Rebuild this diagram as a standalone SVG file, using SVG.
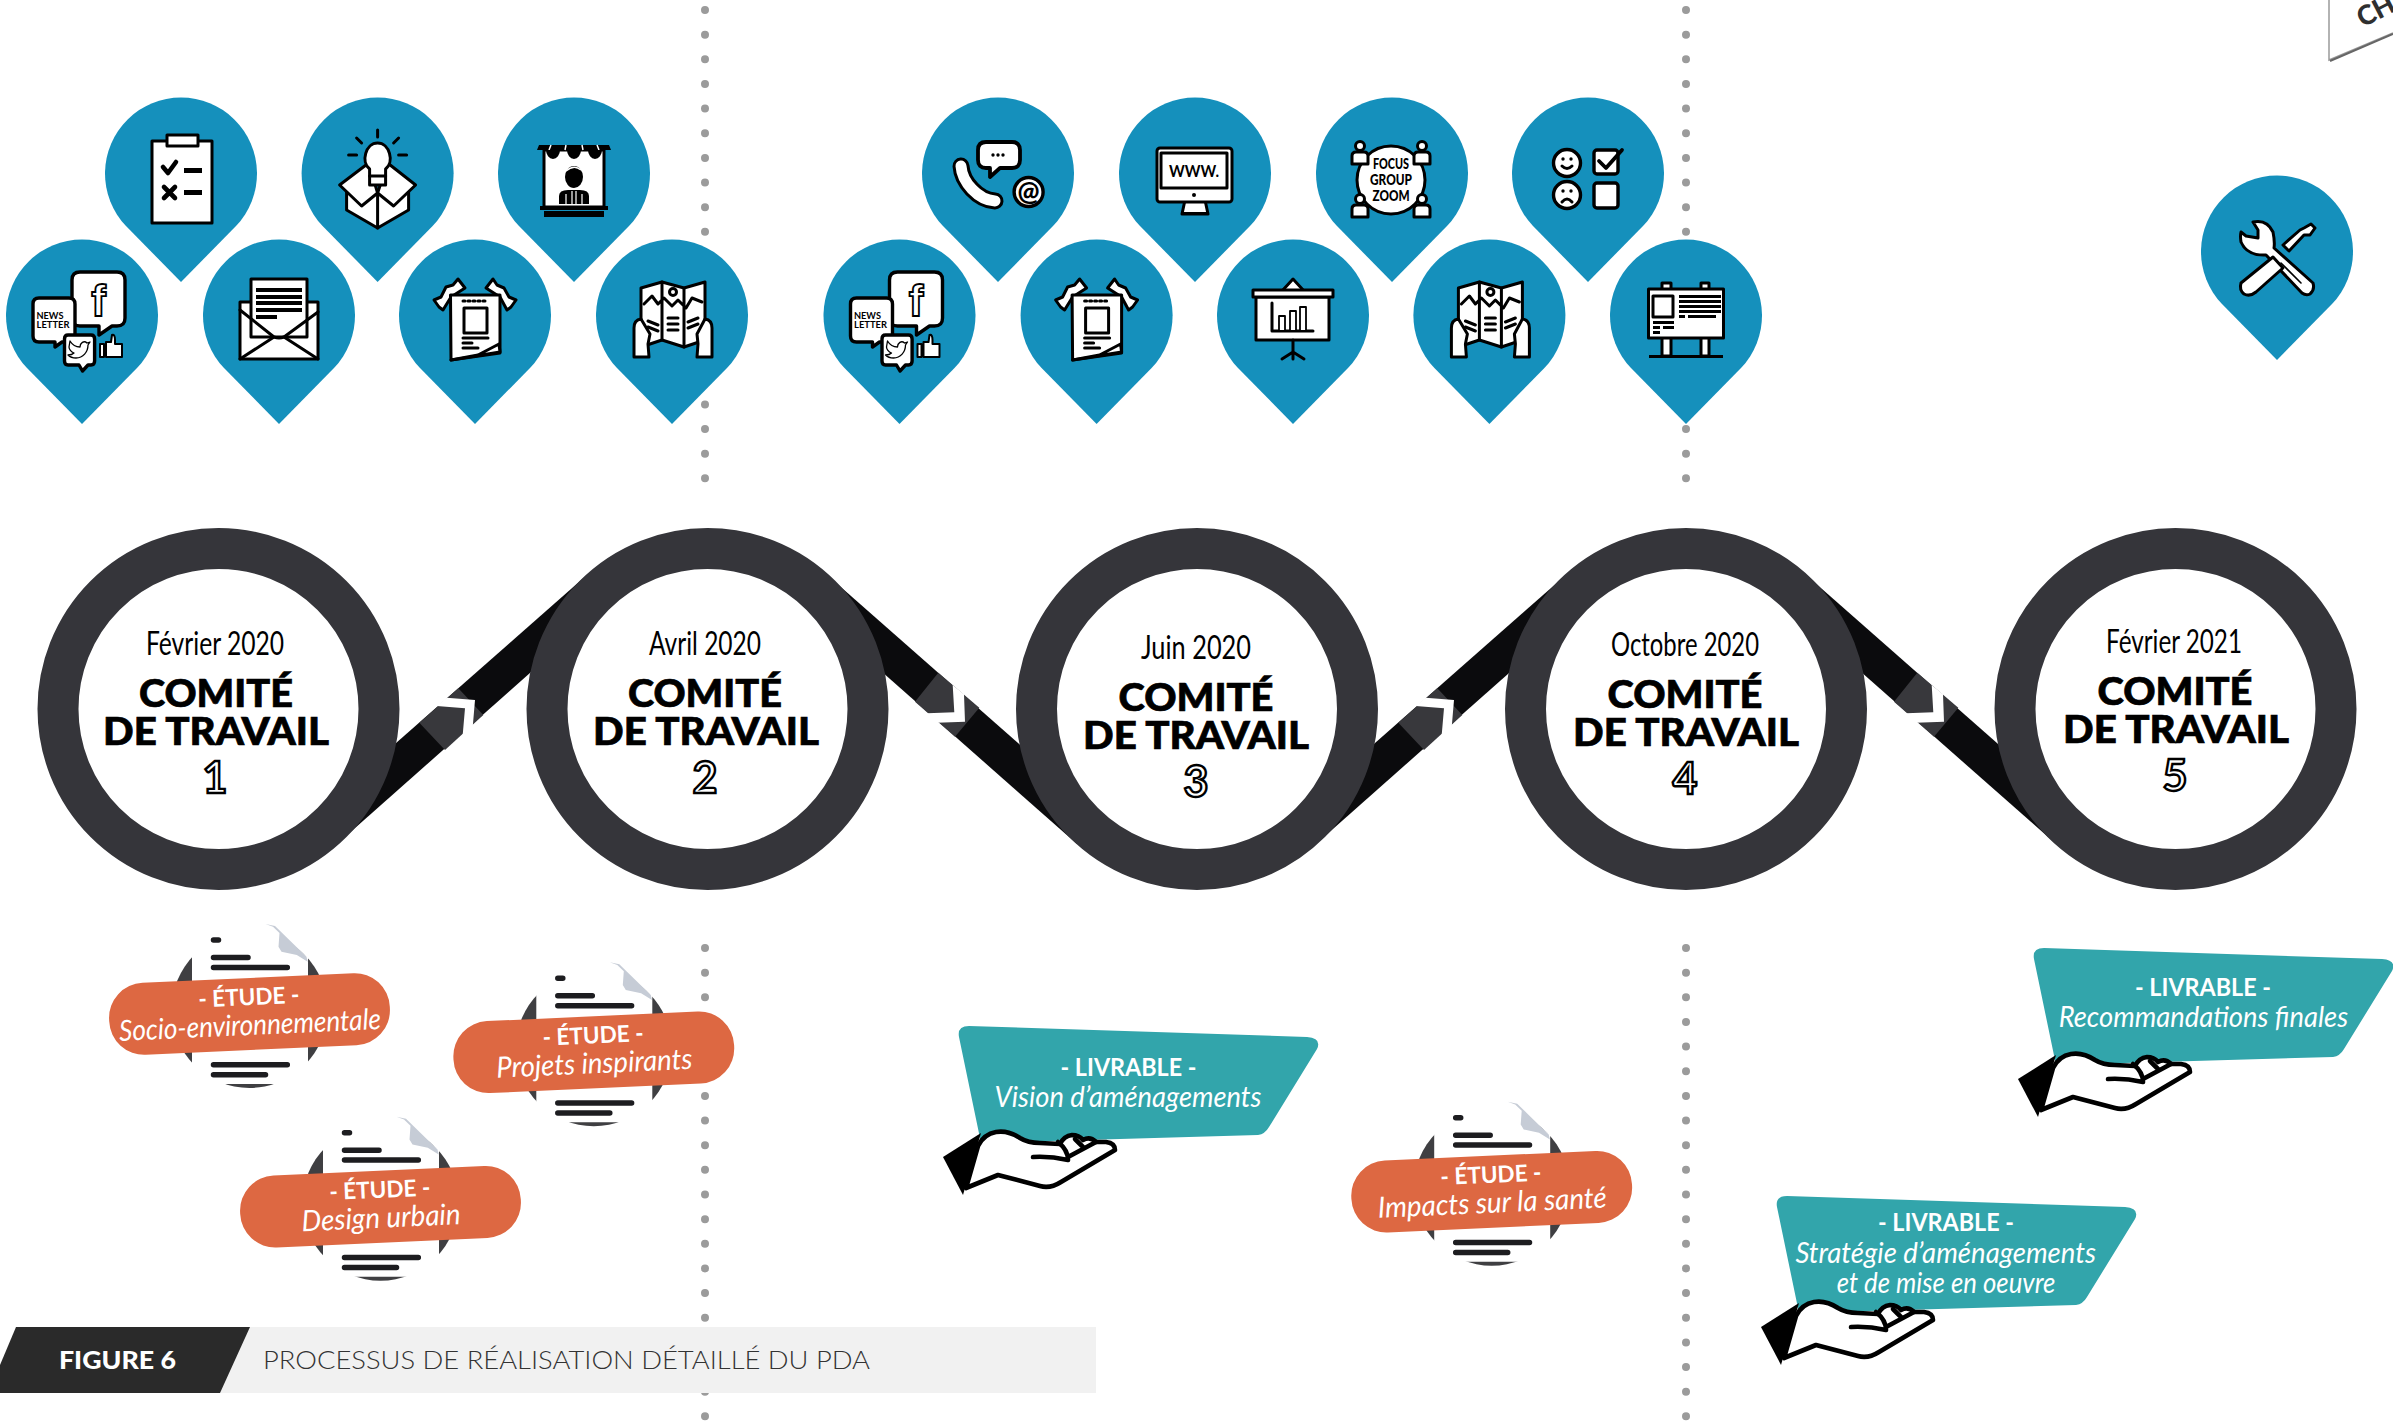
<svg xmlns="http://www.w3.org/2000/svg" xmlns:xlink="http://www.w3.org/1999/xlink" width="2393" height="1421" viewBox="0 0 2393 1421">
<style>
text{font-family:Lato,"Liberation Sans",sans-serif;text-anchor:middle}
.pin{fill:#1590bc}
.w{fill:#fff;stroke:#000;stroke-width:3;stroke-linejoin:round}
.k{fill:#000}
.s{fill:none;stroke:#000;stroke-width:3;stroke-linecap:round;stroke-linejoin:round}
.dots{fill:none;stroke:#9b9b9b;stroke-width:8;stroke-linecap:round;stroke-dasharray:0 24.65}
.band{fill:#0b0b0d}.seg{fill:#38383c}.chev{fill:#fff}
.ring{fill:#fff;stroke:#35353a;stroke-width:41}
.date{font-size:33px;fill:#000}
.ct{font-size:38px;font-weight:900;fill:#000;stroke:#000;stroke-width:.7}
.num{font-size:43px;font-weight:700;fill:#fff;stroke:#000;stroke-width:2.4}
.pill{fill:#dd6842}.dk{fill:#3f3f42}.fold{fill:#c6ccd6}
.ln{fill:none;stroke:#1d1d20;stroke-width:5.5;stroke-linecap:round}
.tb{font-size:23px;font-weight:700;fill:#fff}
.ti{font-size:29px;font-style:italic;fill:#fff}
.teal{fill:#32a5ab}
.hand{fill:#fff;stroke:#000;stroke-width:4.6;stroke-linejoin:round;stroke-linecap:round}
.handl{fill:none;stroke:#000;stroke-width:4.6;stroke-linejoin:round;stroke-linecap:round}
.ltr{font-size:9.5px;font-weight:700;fill:#000}
.foc{font-size:15px;font-weight:900;fill:#000}
</style>
<defs>
<path id="pinshape" class="pin" d="M0,108 L-55,52 A76,76 0 1 1 55,52 Z"/>
<g id="conn-up">
<polygon class="band" points="588,574 354,780 337,844 553,652.6"/>
<polygon class="seg" points="419.3,722.7 458.3,688.3 483.3,715 445,750"/>
<polygon class="chev" points="436.7,706 446.7,697.7 475,700 472.7,727.3 462.7,735 465,708.3"/>
</g>
<g id="conn-down">
<polygon class="band" points="826,574 1060,780 1077,844 860,652.6"/>
<polygon class="seg" points="938.3,672.7 979.3,707.7 955,736.7 915,701.7"/>
<polygon class="chev" points="952.7,685 964,694.3 965,721.7 936.7,722.7 927.3,713.3 954.3,712.3"/>
</g>
<g id="doc">
<circle class="dk" cx="0" cy="-4" r="78"/>
<path fill="#fff" d="M-57.5,-90 H16 L58.5,-57 V70 H-57.5 Z"/>
<path class="fold" d="M16,-90 L25.5,-88 L36.5,-77.3 L57,-57.3 L58.2,-52.3 L47.3,-59 L32,-62.3 L29,-67.3 L30,-81 L23.5,-87.3 Z"/>
<path class="ln" d="M-36,-74H-31M-36,-56.5H-1.5M-36,-46.6H37.8M-36,50.7H37.8M-36,60.7H16"/>
<g transform="rotate(-2.6)"><rect class="pill" x="-140.5" y="-36" width="281" height="72" rx="35"/></g>
</g>
<g id="livrable">
<path class="teal" d="M959,1037 Q957,1026 969,1026 L1307,1037 Q1322,1038 1317,1049 L1269,1127 Q1265,1134 1258,1135 L981,1143 Z"/>
<polygon class="k" points="943,1157 981,1133 963,1195"/>
<path class="hand" d="M966,1188 L978,1146 Q984,1134 996,1132 Q1008,1130 1020,1138 Q1028,1143 1040,1143 L1060,1144 Q1064,1136 1072,1135 Q1079,1135 1083,1140 Q1090,1136 1096,1142 L1106,1142 Q1115,1143 1115,1150 L1061,1182 Q1050,1189 1040,1186 L998,1175 Z"/>
<path class="handl" d="M1033,1157 Q1050,1156 1068,1160 Q1068,1150 1058,1142M1068,1157 L1096,1142M1075,1139 L1084,1148"/>
</g>
<g id="ic-clip"><rect class="w" x="-29" y="-33" width="60" height="82"/><rect class="w" x="-14" y="-39" width="31" height="11"/>
<path class="s" style="stroke-width:4.600" d="M-18,-7 L-13,-1 L-5,-12"/><path class="s" style="stroke-width:4.600" d="M-17,13 L-6,24M-6,13 L-17,24"/><path class="k" d="M3,-6h18v5h-18zM3,16h18v5h-18z"/></g>
<g id="ic-box"><path class="w" d="M-31,18V36L0,54L31,36V18L0,19Z"/><path class="w" d="M-38,11 L-9,-11 L0,19 L-16,32Z"/><path class="w" d="M38,11 L10,-11 L0,19 L16,32Z"/><path class="s" d="M0,19V54"/>
<path class="w" d="M-8,-5C-17,-12 -12,-31 0,-31C12,-31 17,-12 8,-5V11H-8Z"/><path class="s" d="M-8,2H8"/>
<path class="s" d="M0,-44V-37M-21,-36L-16,-31M21,-36L16,-31M-29,-19H-21M21,-19H29"/></g>
<g id="ic-shop"><rect class="w" x="-30" y="-24" width="60" height="57"/><path class="k" d="M-35,-29H35L37,-24H-37Z"/><path d="M-23,-29L-25,-24M-8,-29L-9,-24M8,-29L9,-24M23,-29L25,-24" stroke="#fff" stroke-width="1.500"/><path class="k" d="M-28,-24H-14A7,9 0 0 1 -28,-24ZM-7,-24H7A7,9 0 0 1 -7,-24ZM14,-24H28A7,9 0 0 1 14,-24Z"/><ellipse class="k" cx="0" cy="3" rx="9" ry="11"/><path d="M-8,-3Q0,-10 7,-4" fill="none" stroke="#fff" stroke-width="1.500"/><path class="k" d="M-15,30V22Q-15,16 -6,16H6Q15,16 15,22V30Z"/><path d="M-2,17V30M2,17V30M-8,20V30M8,20V30" stroke="#fff" stroke-width="1.200"/><path class="k" d="M-34,32H34V36H-34ZM-30,37H30V43H-30Z"/></g>
<g id="ic-social"><path class="w" style="stroke-width:3.400" d="M-2,-44H35Q43,-44 43,-36V2Q43,10 35,10H30L17,19V10H-2Q-10,10 -10,2V-36Q-10,-44 -2,-44Z"/><text x="16.5" y="0" style="font-family:'Liberation Sans',sans-serif;font-size:44px;font-weight:700;fill:#fff;stroke:#000;stroke-width:1.800">f</text>
<path class="w" style="stroke-width:3.400" d="M-43,-18H-13Q-7,-18 -7,-12V20Q-7,26 -13,26H-20L-27,31L-27,26H-43Q-49,26 -49,20V-12Q-49,-18 -43,-18Z"/><text class="ltr" x="-32" y="3" textLength="27" lengthAdjust="spacingAndGlyphs">NEWS</text><text class="ltr" x="-29" y="12" textLength="33" lengthAdjust="spacingAndGlyphs">LETTER</text>
<path class="w" style="stroke-width:3.400" d="M-14,19H9Q12.600,19 12.600,23V45Q12.600,49 9,49H6L0.500,55L-3,49H-14Q-17.500,49 -17.500,45V23Q-17.500,19 -14,19Z"/><path class="s" style="stroke-width:1.300" d="M-12,25C-9,30 -4,31 -2,31C-2,27 2,24 5,27L8,26L6,29C6,36 1,42 -6,42C-9,42 -12,41 -14,39C-11,39 -9,38 -8,37C-11,36 -13,33 -13,31Z"/>
<path class="w" style="stroke-width:2" d="M24,26H29L30,19Q33,18 33,24V28H40V41H24ZM18,28H22V41H18Z"/></g>
<g id="ic-env"><rect class="w" x="-39" y="-14" width="78" height="57"/><rect class="w" x="-28" y="-37" width="56" height="58"/><path class="k" d="M-23,-28H23V-24H-23ZM-23,-21H23V-17H-23ZM-23,-15H23V-11H-23ZM-23,-8H23V-4H-23ZM-23,-1H-2V3H-23Z"/><path class="s" d="M-39,-6L-5,21Q0,23 5,21L39,-4M-39,43L-5,21M39,43L5,21"/></g>
<g id="ic-news"><path class="w" d="M-41,-16L-34,-19L-29,-29L-22,-31L-17,-37L-10,-28L-24,-19L-32,-6L-36,-9Z"/><path class="w" d="M41,-16L36,-9L32,-6L25,-19L11,-28L18,-37L22,-31L29,-28L34,-19Z"/><path class="w" d="M-24.500,-21H25V37L-24,44Z"/><rect class="w" x="-11" y="-8" width="23" height="25"/><path class="s" d="M-12,-15H13" stroke-dasharray="2 3"/><path class="s" style="stroke-width:3" d="M-12,22H13M-12,27H-3M-12,32H3"/><path class="w" d="M-24,44L25,36L24,28L3,39Z"/></g>
<g id="ic-map"><path class="w" d="M-31,-28L-10,-34L12,-28L33,-34V24L12,31L-10,24L-31,31Z"/><path class="s" d="M-10,-34V24M12,-28V31M-28,-12L-20,-20L-14,-12L-8,-18L0,-10L6,-16L14,-8L20,-18L30,-14"/><circle class="w" cx="1" cy="-24" r="3.500"/><path class="s" d="M-24,5L-14,9M-24,11L-14,15M-4,2H6M-4,8H6M-4,14H6M16,6L26,2M16,12L26,8"/><path class="w" d="M-38,41V12Q-38,4 -31,3L-22,18L-24,28L-23,41ZM40,41V12Q40,4 33,3L25,18L26,28L25,41Z"/></g>
<g id="ic-phone"><path fill="none" stroke="#000" stroke-width="17" stroke-linecap="round" d="M-37,-8C-36,8 -20,26 -3,27"/><path fill="none" stroke="#fff" stroke-width="11" stroke-linecap="round" d="M-37,-8C-36,8 -20,26 -3,27"/><path class="w" style="stroke-width:3.800" d="M-12,-32H14Q22,-32 22,-24V-14Q22,-6 14,-6H2L-8,3L-8,-6H-12Q-20,-6 -20,-14V-24Q-20,-32 -12,-32Z"/><path class="s" style="stroke-width:3.400" stroke-dasharray="0 5" d="M-5,-19H7"/><circle class="w" cx="30.600" cy="18" r="14.500" style="stroke-width:3.400"/><text x="30.600" y="26.500" style="font-size:26px;font-weight:900;fill:#000">@</text></g>
<g id="ic-mon"><path class="w" d="M-10,26H10L13,40H-13Z"/><rect class="w" x="-38" y="-26" width="75" height="54" rx="3"/><rect class="w" x="-34" y="-21" width="66" height="35"/><text x="-1" y="3" textLength="50" lengthAdjust="spacingAndGlyphs" style="font-size:17px;font-weight:700;fill:#000">WWW.</text><circle class="k" cx="-1" cy="21" r="2"/><path class="k" d="M-14,38H14V41H-14Z"/></g>
<g id="ic-focus"><circle class="w" cx="-1" cy="6" r="34"/><text class="foc" x="-1" y="-5" textLength="36" lengthAdjust="spacingAndGlyphs">FOCUS</text><text class="foc" x="-1" y="11" textLength="42" lengthAdjust="spacingAndGlyphs">GROUP</text><text class="foc" x="-1" y="27" textLength="37" lengthAdjust="spacingAndGlyphs">ZOOM</text>
<path class="w" d="M-40,-10V-18Q-40,-22 -36,-22H-28Q-24,-22 -24,-18V-10Z"/><circle class="w" cx="-32" cy="-28" r="4.500"/><path class="w" d="M22,-10V-18Q22,-22 26,-22H34Q38,-22 38,-18V-10Z"/><circle class="w" cx="30" cy="-28" r="4.500"/><path class="w" d="M-40,43V35Q-40,31 -36,31H-28Q-24,31 -24,35V43Z"/><circle class="w" cx="-32" cy="25" r="4.500"/><path class="w" d="M22,43V35Q22,31 26,31H34Q38,31 38,35V43Z"/><circle class="w" cx="30" cy="25" r="4.500"/></g>
<g id="ic-faces"><circle class="w" style="stroke-width:3.400" cx="-21" cy="-11" r="13.500"/><circle class="k" cx="-25" cy="-15" r="1.700"/><circle class="k" cx="-17" cy="-15" r="1.700"/><path class="s" d="M-26,-8Q-21,-3 -16,-8"/><circle class="w" style="stroke-width:3.400" cx="-21" cy="21" r="13.500"/><circle class="k" cx="-25" cy="17" r="1.700"/><circle class="k" cx="-17" cy="17" r="1.700"/><path class="s" d="M-26,28Q-21,22 -16,28"/><rect class="w" style="stroke-width:3.400" x="6" y="-24" width="24" height="24" rx="3"/><path class="s" style="stroke-width:3.800" d="M11,-13L18,-6L34,-24"/><rect class="w" style="stroke-width:3.400" x="6" y="9" width="24" height="25" rx="3"/></g>
<g id="ic-pres"><path class="w" d="M0,-37L-11,-25H11Z"/><rect class="w" x="-37" y="-19" width="73" height="43"/><rect class="w" x="-40" y="-26" width="80" height="7"/><path class="s" d="M0,24V36M0,36L-11,43M0,36L11,43M0,36V43M-21,-13V15H20"/><path class="w" style="stroke-width:1.800" d="M-14,0H-8V15H-14ZM-3,-5H3V15H-3ZM7,-9H13V15H7Z"/></g>
<g id="ic-bill"><path class="w" d="M-24,-33H-15V40H-24ZM15,-33H23V40H15Z"/><rect class="w" x="-37.500" y="-27" width="75" height="49"/><rect class="w" x="-33" y="-20" width="20" height="21"/><path class="k" d="M-7,-21H35V-18H-7ZM-7,-16H35V-13H-7ZM-7,-11H35V-8H-7ZM-7,-6H35V-3H-7ZM-7,-1H-1V2H-7ZM2,-1H30V2H2ZM-33,5H-12V8H-33ZM-33,10H-26V13H-33ZM-23,10H-12V13H-23ZM-33,15H-26V18H-33ZM-37,39H37V42H-37Z"/></g>
<g id="ic-tools">
<path class="w" d="M34,-28L38,-24L33,-17L27,-17L12,-1L6,-7L23,-22L27,-24Z"/>
<path class="w" d="M-24,-30Q-10,-33 -4,-20Q-2,-10 -3,-4L36,31Q38,38 33,42Q29,44 25,41L-11,3Q-30,4 -36,-10Q-37,-16 -36,-20L-31,-16L-19,-14L-19,-22Z"/>
<path class="s" style="stroke-width:1.600" d="M4,11L24,31"/>
<path class="w" d="M-4,5L-36,31Q-38,38 -33,42Q-27,45 -21,40L6,16Z"/>
</g>
</defs>

<g id="dividers">
<path class="dots" d="M705,10V480"/><path class="dots" d="M705,948V1421"/>
<path class="dots" d="M1686,10V480"/><path class="dots" d="M1686,948V1421"/>
</g>

<g id="pins-row1">
<g id="pin-questionnaire" transform="translate(181,174)"><use href="#pinshape"/><use href="#ic-clip"/></g>
<g id="pin-ideas" transform="translate(377.6,174)"><use href="#pinshape"/><use href="#ic-box"/></g>
<g id="pin-kiosk" transform="translate(574,174)"><use href="#pinshape"/><use href="#ic-shop"/></g>
<g id="pin-social-1" transform="translate(82,316)"><use href="#pinshape"/><use href="#ic-social"/></g>
<g id="pin-envelope" transform="translate(279,316)"><use href="#pinshape"/><use href="#ic-env"/></g>
<g id="pin-news-1" transform="translate(475,316)"><use href="#pinshape"/><use href="#ic-news"/></g>
<g id="pin-map-1" transform="translate(672,316)"><use href="#pinshape"/><use href="#ic-map"/></g>
</g>
<g id="pins-row2">
<g id="pin-phone" transform="translate(998,174)"><use href="#pinshape"/><use href="#ic-phone"/></g>
<g id="pin-www" transform="translate(1195,174)"><use href="#pinshape"/><use href="#ic-mon"/></g>
<g id="pin-focus" transform="translate(1392,174)"><use href="#pinshape"/><use href="#ic-focus"/></g>
<g id="pin-faces" transform="translate(1588,174)"><use href="#pinshape"/><use href="#ic-faces"/></g>
<g id="pin-social-2" transform="translate(899.5,316)"><use href="#pinshape"/><use href="#ic-social"/></g>
<g id="pin-news-2" transform="translate(1096.6,316)"><use href="#pinshape"/><use href="#ic-news"/></g>
<g id="pin-presentation" transform="translate(1293,316)"><use href="#pinshape"/><use href="#ic-pres"/></g>
<g id="pin-map-2" transform="translate(1489.4,316)"><use href="#pinshape"/><use href="#ic-map"/></g>
<g id="pin-billboard" transform="translate(1686,316)"><use href="#pinshape"/><use href="#ic-bill"/></g>
</g>
<g id="pin-tools" transform="translate(2277,252)"><use href="#pinshape"/><use href="#ic-tools"/></g>

<g id="connectors">
<use href="#conn-up"/>
<use href="#conn-down"/>
<use href="#conn-up" x="979"/>
<use href="#conn-down" x="979"/>
</g>

<g id="comite-1"><circle class="ring" cx="218.500" cy="709" r="160.500"/>
<text class="date" x="215" y="655" textLength="138" lengthAdjust="spacingAndGlyphs">Février 2020</text>
<text class="ct" x="216" y="707" textLength="154" lengthAdjust="spacingAndGlyphs">COMITÉ</text>
<text class="ct" x="216" y="745" textLength="226" lengthAdjust="spacingAndGlyphs">DE TRAVAIL</text>
<text class="num" x="215" y="793">1</text></g>
<g id="comite-2"><circle class="ring" cx="707.500" cy="709" r="160.500"/>
<text class="date" x="705" y="655" textLength="112" lengthAdjust="spacingAndGlyphs">Avril 2020</text>
<text class="ct" x="705" y="707" textLength="154" lengthAdjust="spacingAndGlyphs">COMITÉ</text>
<text class="ct" x="706" y="745" textLength="226" lengthAdjust="spacingAndGlyphs">DE TRAVAIL</text>
<text class="num" x="705" y="793">2</text></g>
<g id="comite-3"><circle class="ring" cx="1197" cy="709" r="160.500"/>
<text class="date" x="1196" y="659" textLength="110" lengthAdjust="spacingAndGlyphs">Juin 2020</text>
<text class="ct" x="1196" y="711" textLength="155" lengthAdjust="spacingAndGlyphs">COMITÉ</text>
<text class="ct" x="1196" y="749" textLength="226" lengthAdjust="spacingAndGlyphs">DE TRAVAIL</text>
<text class="num" x="1196" y="797">3</text></g>
<g id="comite-4"><circle class="ring" cx="1686" cy="709" r="160.500"/>
<text class="date" x="1685" y="656" textLength="148" lengthAdjust="spacingAndGlyphs">Octobre 2020</text>
<text class="ct" x="1685" y="708" textLength="155" lengthAdjust="spacingAndGlyphs">COMITÉ</text>
<text class="ct" x="1686" y="746" textLength="226" lengthAdjust="spacingAndGlyphs">DE TRAVAIL</text>
<text class="num" x="1685" y="794">4</text></g>
<g id="comite-5"><circle class="ring" cx="2175.500" cy="709" r="160.500"/>
<text class="date" x="2174" y="653" textLength="136" lengthAdjust="spacingAndGlyphs">Février 2021</text>
<text class="ct" x="2175" y="705" textLength="155" lengthAdjust="spacingAndGlyphs">COMITÉ</text>
<text class="ct" x="2176" y="743" textLength="226" lengthAdjust="spacingAndGlyphs">DE TRAVAIL</text>
<text class="num" x="2175" y="791">5</text></g>

<g id="etude-socio" transform="translate(249.500,1014)"><use href="#doc"/><g transform="rotate(-2.6)"><text class="tb" x="0" y="-9" textLength="101" lengthAdjust="spacingAndGlyphs">- ÉTUDE -</text><text class="ti" x="0" y="21" textLength="262" lengthAdjust="spacingAndGlyphs">Socio-environnementale</text></g></g>
<g id="etude-projets" transform="translate(593.800,1052.300)"><use href="#doc"/><g transform="rotate(-2.6)"><text class="tb" x="0" y="-9" textLength="101" lengthAdjust="spacingAndGlyphs">- ÉTUDE -</text><text class="ti" x="0" y="21" textLength="196" lengthAdjust="spacingAndGlyphs">Projets inspirants</text></g></g>
<g id="etude-design" transform="translate(380.500,1206.700)"><use href="#doc"/><g transform="rotate(-2.6)"><text class="tb" x="0" y="-9" textLength="101" lengthAdjust="spacingAndGlyphs">- ÉTUDE -</text><text class="ti" x="0" y="21" textLength="159" lengthAdjust="spacingAndGlyphs">Design urbain</text></g></g>
<g id="etude-sante" transform="translate(1491.700,1191.700)"><use href="#doc"/><g transform="rotate(-2.6)"><text class="tb" x="0" y="-9" textLength="101" lengthAdjust="spacingAndGlyphs">- ÉTUDE -</text><text class="ti" x="0" y="21" textLength="229" lengthAdjust="spacingAndGlyphs">Impacts sur la santé</text></g></g>

<g id="livrable-vision"><use href="#livrable"/>
<text class="tb" style="font-size:24px" x="1128.500" y="1076" textLength="136" lengthAdjust="spacingAndGlyphs">- LIVRABLE -</text>
<text class="ti" x="1128" y="1107" textLength="267" lengthAdjust="spacingAndGlyphs">Vision d’aménagements</text></g>
<g id="livrable-recommandations"><use href="#livrable" x="1075" y="-78"/>
<text class="tb" style="font-size:24px" x="2203" y="996" textLength="136" lengthAdjust="spacingAndGlyphs">- LIVRABLE -</text>
<text class="ti" x="2203.400" y="1027" textLength="289.500" lengthAdjust="spacingAndGlyphs">Recommandations finales</text></g>
<g id="livrable-strategie"><use href="#livrable" x="818" y="170"/>
<text class="tb" style="font-size:24px" x="1946" y="1231" textLength="136" lengthAdjust="spacingAndGlyphs">- LIVRABLE -</text>
<text class="ti" x="1945.700" y="1262.700" textLength="300.600" lengthAdjust="spacingAndGlyphs">Stratégie d’aménagements</text>
<text class="ti" x="1946" y="1292.700" textLength="218.700" lengthAdjust="spacingAndGlyphs">et de mise en oeuvre</text></g>

<g id="figure-caption">
<rect x="200" y="1327" width="896" height="66" fill="#f1f1f1"/>
<polygon points="16,1327 250,1327 220,1393 0,1393 0,1365" fill="#2a2a2a"/>
<text x="117.500" y="1369" textLength="117" lengthAdjust="spacingAndGlyphs" style="font-size:25px;font-weight:900;fill:#fff">FIGURE 6</text>
<text x="566.500" y="1369" textLength="607" lengthAdjust="spacingAndGlyphs" style="font-size:25px;font-weight:300;fill:#333">PROCESSUS DE RÉALISATION DÉTAILLÉ DU PDA</text>
</g>

<g id="corner-tab">
<path d="M2329,0V60L2393,33" fill="none" stroke="#9a9a9a" stroke-width="1.500"/>
<path d="M2330,61L2393,34" fill="none" stroke="#666" stroke-width="2"/>
<text x="2380" y="19" transform="rotate(-27 2380 19)" style="font-size:27px;font-weight:900;fill:#2f2f2f">CH</text>
</g>
</svg>
